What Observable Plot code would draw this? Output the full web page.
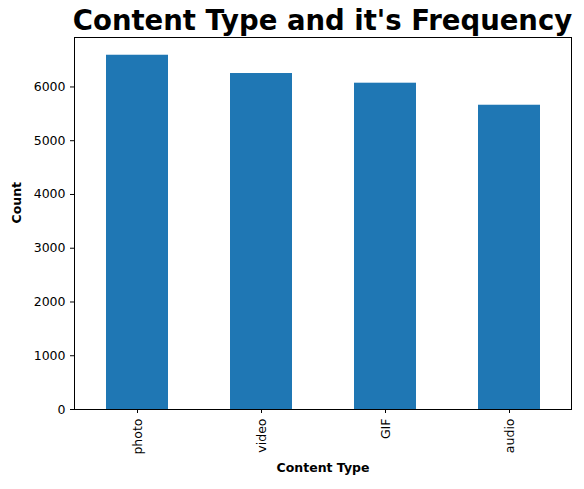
<!DOCTYPE html>
<html><head>
<script src="https://cdn.jsdelivr.net/npm/d3@7"></script>
<script src="https://cdn.jsdelivr.net/npm/@observablehq/plot@0.6"></script>
<style>
body{margin:0;background:#fff;font-family:"DejaVu Sans",sans-serif;}
#wrap{position:relative;width:584px;height:489px;}
#title{position:absolute;top:4px;left:60px;width:525px;text-align:center;font-size:27.5px;font-weight:bold;color:#000;white-space:nowrap;}
</style>
</head><body>
<div id="wrap"><div id="title">Content Type and it's Frequency</div><div id="chart"></div></div>
<script>
const types = ["photo", "video", "GIF", "audio"];
const counts = [6590, 6250, 6070, 5660];
const yTicks = [0, 1000, 2000, 3000, 4000, 5000, 6000];

const data = types.map((t, i) => ({type: t, count: counts[i]}));

const chart = Plot.plot({
  width: 584,
  height: 489,
  marginTop: 37,
  marginBottom: 80,
  marginLeft: 74,
  marginRight: 13,
  style: {fontFamily: "DejaVu Sans", fontSize: "12.5px", color: "#000", background: "#fff"},
  x: {domain: types, paddingInner: 0.5, paddingOuter: 0.25, label: null},
  y: {domain: [0, 6920], label: null},
  marks: [
    Plot.barY(data, {x: "type", y: "count", fill: "#1f77b4"}),
    Plot.frame({stroke: "#000"}),
    Plot.axisX({tickRotate: -90, tickSize: 4, label: null, fontSize: 12.5}),
    Plot.axisY({ticks: yTicks, tickFormat: d3.format("d"), tickSize: 4, label: null, fontSize: 12.5}),
    Plot.text(["Content Type"], {frameAnchor: "bottom", dy: 62, fontWeight: "bold", fontSize: 12.5}),
    Plot.text(["Count"], {frameAnchor: "left", dx: -58, rotate: -90, fontWeight: "bold", fontSize: 12.5})
  ]
});
document.getElementById("chart").append(chart);
</script>
</body></html>
